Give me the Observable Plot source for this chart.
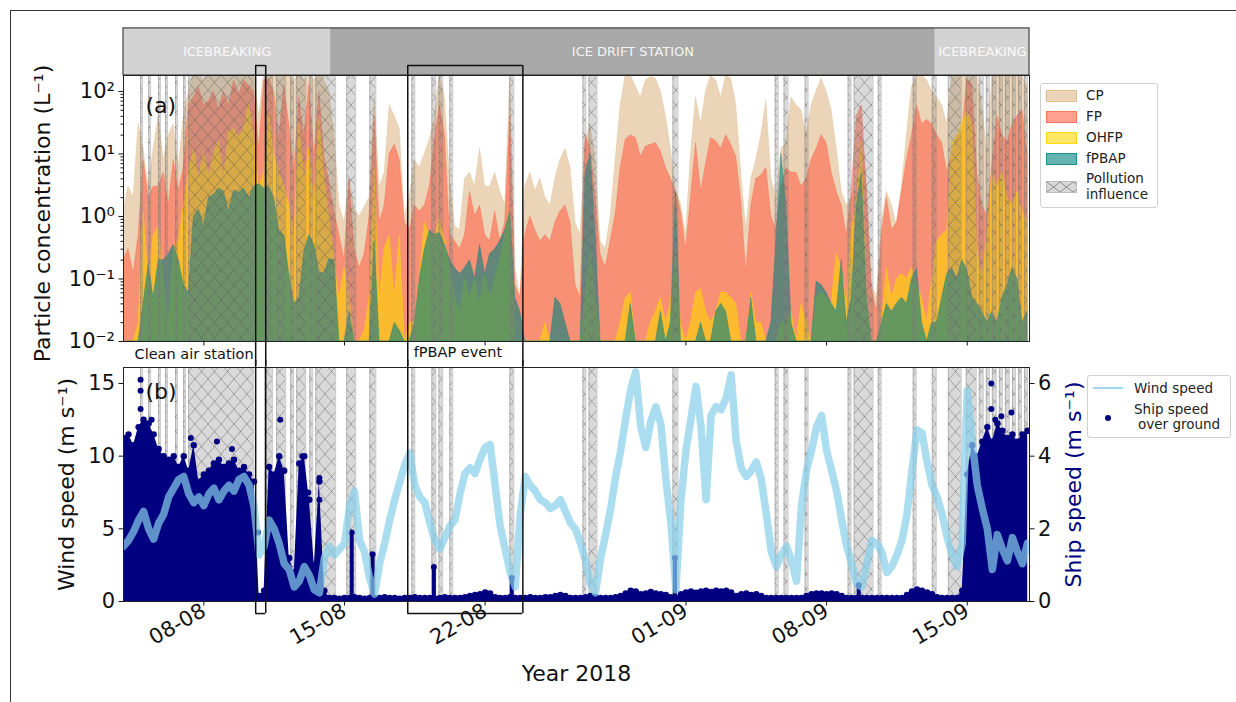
<!DOCTYPE html>
<html><head><meta charset="utf-8">
<script src="https://cdn.jsdelivr.net/npm/d3@7"></script>
<script src="https://cdn.jsdelivr.net/npm/@observablehq/plot@0.6"></script>
<style>
body{margin:0;background:#fff;font-family:"DejaVu Sans",sans-serif;}
#wrap{position:relative;width:1236px;height:702px;overflow:hidden;background:#fff;}
#border{position:absolute;left:10px;top:10px;width:1300px;height:800px;border-top:1px solid #333;border-left:1px solid #333;}
#pa,#pb{position:absolute;left:0;}
#pa{top:0px}#pb{top:364px}
.legend{position:absolute;background:#fff;border:1px solid #d0d0d0;border-radius:3px;font-size:13.5px;color:#222;}
.legend .sw{position:absolute;width:29px;height:10px;}
.legend .tx{position:absolute;line-height:16px;white-space:nowrap;}
</style></head><body>
<svg width="0" height="0" style="position:absolute"><defs>
<pattern id="hatch" patternUnits="userSpaceOnUse" width="13" height="15"><path d="M0,0L13,15M13,0L0,15" stroke="#555" stroke-width="0.8" stroke-opacity="0.55" fill="none"/></pattern>
<pattern id="hatchL" patternUnits="userSpaceOnUse" width="13" height="10"><path d="M0,0L13,10M13,0L0,10" stroke="#777" stroke-width="0.8" fill="none"/></pattern>
</defs></svg>
<div id="wrap">
<div id="border"></div>
<div id="pa"></div>
<div id="pb"></div>
<div class="legend" style="left:1040px;top:83px;width:116px;height:123px;">
  <span class="sw" style="left:5px;top:6px;background:rgba(222,184,135,0.6);border:1px solid rgba(222,184,135,0.8)"></span><span class="tx" style="left:45px;top:3px">CP</span>
  <span class="sw" style="left:5px;top:27px;background:rgba(255,99,71,0.6);border:1px solid rgba(255,99,71,0.7)"></span><span class="tx" style="left:45px;top:24px">FP</span>
  <span class="sw" style="left:5px;top:48px;background:rgba(255,215,0,0.6);border:1px solid rgba(255,215,0,0.8)"></span><span class="tx" style="left:45px;top:45px">OHFP</span>
  <span class="sw" style="left:5px;top:69px;background:rgba(0,128,128,0.6);border:1px solid rgba(0,128,128,0.7)"></span><span class="tx" style="left:45px;top:66px">fPBAP</span>
  <span class="sw" style="left:5px;top:97px;background:#d9d9d9;border:1px solid #bbb"><svg width="29" height="10" style="position:absolute;left:0;top:0"><rect width="29" height="10" fill="url(#hatchL)"/></svg></span>
  <span class="tx" style="left:45px;top:86px">Pollution</span><span class="tx" style="left:45px;top:102px">influence</span>
</div>
<div class="legend" style="left:1087px;top:375px;width:142px;height:61px;">
  <span style="position:absolute;left:5px;top:11px;width:30px;height:2px;background:rgba(135,206,235,0.8)"></span><span class="tx" style="left:46px;top:4px">Wind speed</span>
  <span style="position:absolute;left:17px;top:39px;width:6px;height:6px;border-radius:3px;background:navy"></span>
  <span class="tx" style="left:46px;top:25px">Ship speed</span><span class="tx" style="left:50px;top:40px">over ground</span>
</div>
</div>
<script>
// ---------- data (0.25-day steps starting 4 Aug 2018 00:00 UTC) ----------
const stepDays = 0.25;
const cp = [
 1.2,3,2,30,12,3,12,40,8,20,
 30,6,40,100,200,200,150,200,200,200,
 200,200,200,200,200,200,200,40,200,200,
 200,200,200,200,150,200,150,200,150,200,
 150,100,20,1.5,0.8,4,1.3,1.0,1.4,2.0,
 80,3,5,60,40,25,1.0,2.0,8,6,
 10,17,40,180,80,4,0.7,0.6,4,5,
 3,12,3,3,5,2.5,1.5,160,0.15,0.05,
 3,5,2.5,4,2,1.5,4,8,12,6,
 0.8,0.5,15,30,8,0.4,0.3,1.0,8,60,
 180,180,120,80,150,170,160,100,40,12,
 2.5,1.6,0.5,10,80,30,100,180,150,80,
 180,160,60,5,0.6,4,8,20,70,4,
 2,12,15,80,60,50,20,60,100,160,
 100,50,12,2.5,1.5,2,3,20,3,0.08,
 0.05,0.8,2.5,1.5,0.7,3,20,120,180,180,
 150,100,80,60,30,180,180,180,180,180,
 180,60,10,180,180,180,180,180,180,180,120];
const fp = [
 0.2,0.3,0.12,0.5,8,2,3,3,5,1.5,
 8,2.5,6,60,80,120,60,70,100,50,
 100,60,150,90,150,125,100,12,150,160,
 100,18,125,30,5,80,18,125,9,100,
 9,3.5,1.2,0.5,0.2,4,0.3,0.15,0.25,1.0,
 40,0.8,1.5,10,14,8,0.8,0.6,1.5,1.2,
 1.5,3,17,60,20,0.5,0.4,0.3,0.5,2.5,
 1.0,1.5,0.5,0.4,1.2,0.4,0.8,40,0.08,0.05,
 0.5,1.0,0.6,0.4,0.5,0.4,0.8,1.2,1.5,0.8,
 0.08,0.05,20,12,2,0.25,0.15,0.4,1.1,6,
 17,20,18,9,13,14,15,11,6,4,
 2.5,1.2,0.3,2,15,2.5,7,18,16,12,
 20,14,9,1.8,0.12,1.5,4,4.5,6,1.0,
 0.6,3,6,5,5,3,4,8,12,20,
 15,5,2.5,1.5,0.5,2.5,40,60,3,0.07,
 0.03,0.5,2,0.6,0.8,2.5,8,20,60,30,
 35,30,20,15,5,10,20,20,160,130,
 5,1.5,1.0,7,40,20,15,30,40,50,10];
const ohfp = [
 0,0,0,0.02,1.2,0.1,0.5,0.7,0.1,0.02,
 0.3,0.4,1.5,5,12,4,10,4.5,10,16,
 4,22,25,18,25,60,20,3,5,40,
 10,5,3,1.5,0.45,30,4,12,1.5,35,
 4.5,1,0.2,0.05,0.15,0.05,0.01,0,0.015,0.05,
 6,0.05,0.3,0.5,0.05,0.5,0,0.02,0.02,0.1,
 0.8,0.5,0.5,0.9,0.4,0.15,0.05,0.03,0.1,0.05,
 0.1,0.04,0.12,0.05,0.1,0.2,0.5,1.3,0,0,
 0,0.01,0,0.01,0.02,0,0,0.01,0,0,
 0,0,0.05,0.3,0.05,0,0,0,0.01,0.02,
 0.05,0.06,0.01,0.01,0.01,0.02,0.03,0.05,0.02,0.04,
 0.3,0.02,0.01,0.02,0.06,0.07,0.03,0.02,0.03,0.06,
 0.06,0.05,0.04,0.01,0.01,0.06,0.02,0.02,0.01,0,
 0.01,0.02,0.02,0.03,0.01,0.04,0.02,0.01,0.05,0.06,
 0.05,0.04,0.25,0.15,0.04,0.6,1.5,15,0.05,0,
 0.01,0.02,0.15,0.05,0.1,0.12,0.1,0.15,0.08,0.05,
 0.02,0.1,0.4,0.5,0.6,15,20,30,50,30,
 0.3,0.1,0.5,5,3,5,2,1.5,2.5,1.2,0.8];
const fpbap = [
 0,0,0,0,0.04,0.17,0.05,0.2,0.2,0.25,
 0.35,0.2,0.08,0.06,1.0,1.3,0.7,2,2.2,2.8,
 2.5,1.2,2.6,2.4,2.8,2.0,3,3.3,2.8,3.0,
 2.0,0.6,0.5,0.12,0.04,0.05,0.27,0.5,0.35,0.13,
 0.12,0.21,0.2,0.01,0.01,0.03,0,0.01,0,0.01,
 0.4,0.01,0,0,0.02,0.015,0,0,0.02,0.1,
 0.3,0.6,0.5,0.55,0.35,0.2,0.15,0.12,0.15,0.2,
 0.1,0.35,0.12,0.25,0.3,0.4,0.6,1.2,0.05,0.03,
 0,0,0,0.01,0.01,0,0.05,0.04,0.02,0,
 0.01,0.01,5,10,0.5,0,0,0,0,0,
 0.01,0.04,0.01,0,0,0,0.01,0.03,0.01,0.02,
 2.5,0.01,0,0,0.01,0.02,0,0.01,0.03,0.04,
 0.03,0.01,0.01,0,0,0.05,0.01,0.01,0,0.02,
 0.4,10,1.5,0.02,0.01,0.01,0.01,0,0.09,0.08,
 0.06,0.04,0.03,0.2,0.02,0.05,1.5,5,0.05,0,
 0,0.02,0.04,0.03,0.04,0.05,0.04,0.1,0.15,0.02,
 0.01,0.02,0.02,0.05,0.12,0.15,0.1,0.2,0.14,0.05,
 0.04,0.03,0.02,0.03,0.02,0.05,0.08,0.15,0.1,0.02,0.03];
const windSpeed = [
 3.8,4.2,4.8,5.6,6.2,5.0,4.3,5.4,6.0,7.2,
 7.8,8.4,8.6,7.4,6.8,7.2,6.6,7.4,7.8,7.0,
 7.6,8.0,7.6,8.4,8.6,8.0,6.5,3.2,3.8,5.6,
 5.0,4.0,2.6,2.2,1.0,1.4,2.4,1.8,0.8,0.6,
 3.0,3.8,3.2,3.6,4.0,6.5,7.6,4.2,3.4,1.6,
 0.5,2.6,4.0,5.6,7.0,8.2,9.4,10.2,8.0,7.2,
 6.8,5.4,4.2,3.6,4.4,5.2,5.6,7.4,8.8,9.2,
 8.8,9.8,10.6,10.8,8.0,5.2,3.6,2.0,1.0,6.0,
 8.6,8.0,7.6,7.0,6.8,6.4,6.6,7.0,6.2,5.4,
 5.0,4.0,2.8,1.2,0.6,3.0,4.6,6.4,8.6,10.4,
 12.6,14.6,15.8,12.0,10.6,12.4,13.4,12.2,8.4,5.4,
 0.8,7.0,10.4,12.6,14.8,12.0,7.0,12.8,13.4,13.2,
 14.0,15.6,11.0,9.2,8.6,9.0,9.6,8.4,6.0,3.4,
 2.4,3.2,3.8,2.8,1.4,6.6,9.0,10.4,12.0,12.8,
 10.4,9.0,7.6,5.6,3.8,2.6,1.2,1.0,2.6,4.2,
 4.0,3.4,2.0,2.4,3.2,4.2,6.0,9.0,11.8,11.6,
 9.6,8.0,7.2,6.0,4.4,3.2,2.4,4.0,14.5,11.0,
 8.0,6.4,5.0,2.2,4.6,3.6,2.8,4.4,3.4,2.6,4.0];
const shipSpeed = [
 4.5,4.6,4.3,4.8,5.0,4.9,4.6,4.2,4.0,3.9,
 4.0,3.7,4.0,3.6,4.3,3.3,3.5,3.6,3.8,3.9,
 3.7,3.8,3.9,3.6,3.7,3.5,3.3,0.15,0.3,3.7,
 3.5,4.0,3.6,1.2,0.8,3.8,4.0,2.8,1.0,3.3,
 0.3,0.1,0.1,0.08,0.1,0.1,0.12,0.1,0.08,0.1,
 0.1,0.1,0.12,0.1,0.1,0.08,0.1,0.1,0.12,0.1,
 0.1,0.1,0.08,0.1,0.12,0.1,0.1,0.1,0.12,0.15,
 0.18,0.2,0.25,0.22,0.12,0.1,0.1,0.12,0.1,0.1,
 0.1,0.12,0.1,0.1,0.12,0.12,0.15,0.18,0.15,0.1,
 0.1,0.1,0.12,0.15,0.12,0.1,0.1,0.1,0.12,0.15,
 0.22,0.3,0.28,0.2,0.22,0.26,0.22,0.2,0.18,0.12,
 0.1,0.2,0.25,0.28,0.24,0.28,0.3,0.26,0.3,0.28,
 0.3,0.25,0.15,0.2,0.22,0.18,0.2,0.15,0.1,0.1,
 0.1,0.1,0.1,0.1,0.1,0.1,0.15,0.2,0.22,0.22,
 0.2,0.22,0.2,0.15,0.1,0.1,0.1,0.1,0.1,0.1,
 0.1,0.1,0.1,0.1,0.1,0.1,0.18,0.28,0.33,0.3,
 0.25,0.2,0.12,0.1,0.1,0.1,0.1,0.3,3.5,4.3,
 4.0,4.4,4.8,4.4,4.9,4.7,4.5,4.6,4.4,4.6,4.7];
// isolated ship-speed columns during the drift, and single high dots
const shipSpikeDays = [11.36, 12.4, 15.45, 19.33, 27.45, 36.6];
const shipSpikeVals = [1.9, 1.3, 0.95, 0.65, 1.2, 0.45];
const shipDotDays = [0.85, 0.85, 0.85, 1.4, 3.35, 4.65, 5.4, 6.7, 7.8, 8.9, 9.2, 9.75, 9.75, 43.2, 43.2, 43.7, 44.2, 43.4];
const shipDotVals = [6.1, 5.8, 5.3, 5.0, 4.5, 4.4, 4.2, 1.9, 5.0, 4.0, 3.0, 3.4, 2.8, 6.0, 5.3, 5.1, 5.2, 5.0];
// pollution influence periods (days since 4 Aug)
const pollStart = [0.85,1.25,1.74,2.09,2.59,2.99,3.24,7.03,7.62,8.32,8.62,9.27,9.57,11.11,12.26,14.35,15.35,15.70,16.24,19.23,22.87,23.17,27.35,32.44,32.88,33.93,36.07,36.37,37.57,39.31,40.26,41.06,41.95,42.6,42.95,43.25,43.6,43.9,44.25,44.55,44.85];
const pollEnd   = [0.95,1.35,1.84,2.19,2.69,3.09,6.48,7.42,8.07,8.47,9.07,9.42,10.56,11.56,12.56,14.50,15.55,15.89,16.39,19.43,23.02,23.57,27.60,32.59,33.08,34.08,36.22,37.31,37.72,39.46,40.46,41.70,42.45,42.8,43.1,43.45,43.75,44.1,44.4,44.7,45.0];
// expedition phases
const phaseLabels = ["ICEBREAKING", "ICE DRIFT STATION", "ICEBREAKING"];
const phaseStart = [0, 10.31, 40.41];
const phaseEnd = [10.31, 40.41, 45.1];
const phaseColors = ["#d3d3d3", "#a9a9a9", "#d3d3d3"];
// highlighted boxes
const boxLabels = ["Clean air station", "fPBAP event"];
const boxStart = [6.58, 14.15];
const boxEnd = [7.08, 19.88];
// ticks
const xTickDays = [4, 11, 18, 28, 35, 42];
const xTickLabels = ["08-08", "15-08", "22-08", "01-09", "08-09", "15-09"];
const yMajor = [0.01, 0.1, 1, 10, 100];
const yMajorLabels = ["10\u207B\u00B2", "10\u207B\u00B9", "10\u2070", "10\u00B9", "10\u00B2"];
const windTicks = [0, 5, 10, 15];
const shipTicks = [0, 2, 4, 6];
const seriesNames = ["CP", "FP", "OHFP", "fPBAP"];
const seriesColors = ["burlywood", "tomato", "gold", "teal"];

// ---------- build ----------
const t0 = Date.UTC(2018, 7, 4);
const toDate = d => new Date(t0 + d * 864e5);
const xDomain = [toDate(0), toDate(45.1)];
const xTicks = xTickDays.map(toDate);
const shipK = 16.1 / 6.44; // ship axis aligned with wind axis (6 <-> 15)

const seriesVals = [cp, fp, ohfp, fpbap];
const seriesRows = seriesVals.map(arr => arr.map((v, i) => ({date: toDate(i * stepDays), v: Math.max(v, 0.01)})));
const poll = pollStart.map((s, i) => ({s: toDate(s), e: toDate(pollEnd[i])}));
const phases = phaseLabels.map((l, i) => ({label: l, s: toDate(phaseStart[i]), e: toDate(phaseEnd[i]), m: toDate((phaseStart[i] + phaseEnd[i]) / 2), c: phaseColors[i]}));
const boxes = boxLabels.map((l, i) => ({label: l, s: toDate(boxStart[i]), e: toDate(boxEnd[i])}));
const windRows = windSpeed.map((v, i) => ({date: toDate(i * stepDays), v}));
const shipRows = shipSpeed.map((v, i) => ({date: toDate(i * stepDays), v: v * shipK}));
const spikeRows = shipSpikeDays.map((d, i) => ({date: toDate(d), v: shipSpikeVals[i] * shipK}));
const dotRows = shipDotDays.map((d, i) => ({date: toDate(d), v: shipDotVals[i] * shipK}));

const minor = [];
for (let e = -2; e <= 2; e++) for (let k = 2; k <= 9; k++) { const v = k * Math.pow(10, e); if (v < 180) minor.push(v); }

const svgStyle = "background:transparent;overflow:visible;font-family:'DejaVu Sans',sans-serif;font-size:21px;color:#111;";

const pa = Plot.plot({
  width: 1236, height: 364,
  marginLeft: 123, marginRight: 207, marginTop: 75, marginBottom: 23,
  style: svgStyle,
  x: {type: "utc", domain: xDomain, label: null},
  y: {type: "log", domain: [0.01, 180], label: null},
  color: {type: "identity"},
  marks: [
    ...seriesRows.map((rows, k) => Plot.areaY(rows, {x: "date", y1: 0.01, y2: "v", fill: seriesColors[k], fillOpacity: 0.6, stroke: seriesColors[k], strokeOpacity: 0.45, strokeWidth: 0.8, clip: true})),
    Plot.rect(poll, {x1: "s", x2: "e", fill: "gray", fillOpacity: 0.3}),
    Plot.rect(poll, {x1: "s", x2: "e", fill: "url(#hatch)"}),
    Plot.ruleX(poll, {x: "s", stroke: "gray", strokeOpacity: 0.5, strokeWidth: 0.8}),
    Plot.ruleX(poll, {x: "e", stroke: "gray", strokeOpacity: 0.5, strokeWidth: 0.8}),
    Plot.rect(phases, {x1: "s", x2: "e", y1: 180, y2: 1020, fill: "c"}),
    Plot.text(phases, {x: "m", y: 430, text: "label", fill: "white", fillOpacity: 0.9, fontSize: 13}),
    Plot.rect([0], {x1: xDomain[0], x2: xDomain[1], y1: 180, y2: 1020, fill: "none", stroke: "#222"}),
    Plot.frame({stroke: "#222"}),
    Plot.axisY(yMajor, {tickSize: 4.5, tickPadding: 4, fontSize: 21, label: null, tickFormat: d => yMajorLabels[yMajor.indexOf(d)]}),
    Plot.axisY(minor, {tickSize: 2.5, label: null, tickFormat: () => ""}),
    Plot.axisX(xTicks, {tickSize: 4.5, label: null, tickFormat: () => ""}),
    Plot.ruleX(boxes, {x: "s", y1: 0.0041, y2: 260, stroke: "#111", strokeWidth: 1.5}),
    Plot.ruleX(boxes, {x: "e", y1: 0.0041, y2: 260, stroke: "#111", strokeWidth: 1.5}),
    Plot.ruleY(boxes, {y: 260, x1: "s", x2: "e", stroke: "#111", strokeWidth: 1.5}),
    Plot.text(boxes.slice(0, 1), {x: "s", y: 0.0062, text: "label", textAnchor: "end", dx: -2, fontSize: 14.5, fill: "#111"}),
    Plot.text(boxes.slice(1), {x: "s", y: 0.0066, text: "label", textAnchor: "start", dx: 6, fontSize: 14.5, fill: "#111"}),
    Plot.text(["(a)"], {text: d => d, frameAnchor: "top-left", dx: 22, dy: 22, textAnchor: "start", fontSize: 22, fill: "#111"}),
    Plot.text(["Particle concentration (L\u207B\u00B9)"], {text: d => d, frameAnchor: "left", textAnchor: "middle", dx: -81, dy: 5, rotate: -90, fontSize: 22, fill: "#111"})
  ]
});
document.getElementById("pa").appendChild(pa);

const pb = Plot.plot({
  width: 1236, height: 338,
  marginLeft: 123, marginRight: 207, marginTop: 3, marginBottom: 101,
  style: svgStyle,
  x: {type: "utc", domain: xDomain, label: null},
  y: {domain: [0, 16.1], label: null},
  marks: [
    Plot.rect(poll, {x1: "s", x2: "e", fill: "gray", fillOpacity: 0.3}),
    Plot.rect(poll, {x1: "s", x2: "e", fill: "url(#hatch)"}),
    Plot.ruleX(poll, {x: "s", stroke: "gray", strokeOpacity: 0.5, strokeWidth: 0.8}),
    Plot.ruleX(poll, {x: "e", stroke: "gray", strokeOpacity: 0.5, strokeWidth: 0.8}),
    Plot.areaY(shipRows, {x: "date", y1: 0, y2: "v", fill: "navy", clip: true}),
    Plot.dot(shipRows, {x: "date", y: "v", r: 3.2, fill: "navy", clip: true}),
    Plot.ruleX(spikeRows, {x: "date", y1: 0, y2: "v", stroke: "navy", strokeWidth: 4}),
    Plot.dot(spikeRows, {x: "date", y: "v", r: 3, fill: "navy"}),
    Plot.dot(dotRows, {x: "date", y: "v", r: 3, fill: "navy"}),
    Plot.line(windRows, {x: "date", y: "v", stroke: "skyblue", strokeOpacity: 0.7, strokeWidth: 7.5, clip: true}),
    Plot.frame({stroke: "#222"}),
    Plot.axisY(windTicks, {tickSize: 4.5, tickPadding: 4, fontSize: 21, label: null}),
    Plot.axisY(shipTicks.map(s => s * shipK), {anchor: "right", tickSize: 4.5, tickPadding: 4, fontSize: 21, label: null, tickFormat: d => String(shipTicks[Math.round(d / shipK / 2)])}),
    Plot.axisX(xTicks, {tickSize: 4.5, tickPadding: 3, tickRotate: -30, fontSize: 21, label: null, tickFormat: d => xTickLabels[xTicks.findIndex(t => +t === +d)]}),
    Plot.ruleX(boxes, {x: "s", y1: -0.83, y2: 16.6, stroke: "#111", strokeWidth: 1.5}),
    Plot.ruleX(boxes, {x: "e", y1: -0.83, y2: 16.6, stroke: "#111", strokeWidth: 1.5}),
    Plot.ruleY(boxes, {y: -0.83, x1: "s", x2: "e", stroke: "#111", strokeWidth: 1.5}),
    Plot.text(["(b)"], {text: d => d, frameAnchor: "top-left", dx: 22, dy: 16, textAnchor: "start", fontSize: 22, fill: "#111"}),
    Plot.text(["Wind speed (m s\u207B\u00B9)"], {text: d => d, frameAnchor: "left", textAnchor: "middle", dx: -57, rotate: -90, fontSize: 22, fill: "#111"}),
    Plot.text(["Ship speed (m s\u207B\u00B9)"], {text: d => d, frameAnchor: "right", textAnchor: "middle", dx: 44, rotate: -90, fontSize: 22, fill: "navy"}),
    Plot.text(["Year 2018"], {text: d => d, frameAnchor: "bottom", dy: 79, fontSize: 22, fill: "#111"})
  ]
});
document.getElementById("pb").appendChild(pb);
</script>
</body></html>
